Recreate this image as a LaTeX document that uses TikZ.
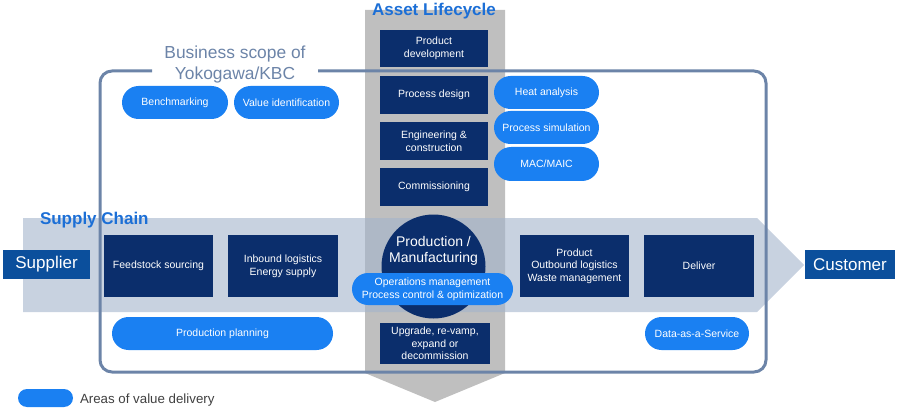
\documentclass[tikz,border=0pt]{standalone}
\usepackage{fontspec}
\setmainfont{Liberation Sans}
\usetikzlibrary{shapes.misc}
\definecolor{navy}{HTML}{0B2E6C}
\definecolor{supblue}{HTML}{0B4F9C}
\definecolor{pillblue}{HTML}{1A80F2}
\definecolor{titleblue}{HTML}{1C6FD6}
\definecolor{framec}{HTML}{6C84A8}
\definecolor{lcgray}{HTML}{BFBFBF}
\definecolor{bandc}{HTML}{A3B4CB}
\definecolor{legendtext}{HTML}{404040}
\newcommand\fsz[2]{\fontsize{#1}{#2}\selectfont}
\begin{document}
\begin{tikzpicture}[x=1pt,y=-1pt,
  every node/.style={inner sep=0pt, outer sep=0pt},
  navybox/.style={fill=navy, text=white, align=center, font=\fsz{10.5}{12.7}},
  endbox/.style={fill=supblue, text=white, font=\fsz{17}{20}, minimum height=29pt},
  pill/.style={rounded rectangle, fill=pillblue, text=white, align=center, font=\fsz{10.5}{12.7}, minimum height=33pt},
  title/.style={text=titleblue, font=\fsz{17}{20}\bfseries},
  framestyle/.style={draw=framec, line width=3pt, rounded corners=12pt}]
\useasboundingbox (0,0) rectangle (900,409);
% asset lifecycle column
\fill[lcgray] (365,10) -- (505,10) -- (505,373) -- (435,402) -- (365,373) -- cycle;
% supply chain band
\fill[bandc, opacity=0.6] (23,218) -- (757,218) -- (804,265) -- (757,312) -- (23,312) -- cycle;
% business scope frame
\draw[framestyle] (152,71) -- (100,71) -- (100,372) -- (766,372) -- (766,71) -- (318,71);
\node[text=framec, font=\fsz{17.4}{21}, align=center] (scope) at (235,65) {Business scope of\\Yokogawa/KBC};
% titles
\node[title, anchor=base] (alc) at (434,16) {Asset Lifecycle};
\node[title, anchor=base west] (sct) at (40,224) {Supply Chain};
% lifecycle boxes
\node[navybox, minimum width=108pt, minimum height=37pt] (pdev) at (434,48.5) {Product\\development};
\node[navybox, minimum width=108pt, minimum height=38pt] (pdes) at (434,95) {Process design};
\node[navybox, minimum width=108pt, minimum height=38pt] (eng) at (434,141) {Engineering \&\\construction};
\node[navybox, minimum width=108pt, minimum height=38pt] (comm) at (434,187) {Commissioning};
\node[navybox, minimum width=110pt, minimum height=41pt] (upg) at (435,343.5) {Upgrade, re-vamp,\\expand or\\decommission};
% production circle
\node[circle, fill=navy, minimum size=104pt] (prod) at (433.5,266.5) {};
\node[text=white, align=center, font=\fsz{14}{15.7}] (prodtxt) at (433.5,251) {Production /\\Manufacturing};
\node[pill, minimum width=161pt, minimum height=32pt] (ops) at (432.5,289) {Operations management\\Process control \& optimization};
% supply chain boxes
\node[navybox, minimum width=109pt, minimum height=62pt] (feed) at (158.5,266) {Feedstock sourcing};
\node[navybox, minimum width=110pt, minimum height=62pt] (inb) at (283,266) {Inbound logistics\\Energy supply};
\node[navybox, minimum width=109pt, minimum height=62pt] (outb) at (574.5,266) {Product\\Outbound logistics\\Waste management};
\node[navybox, minimum width=110pt, minimum height=62pt] (deliv) at (699,266) {Deliver};
\node[endbox, minimum width=87pt] (supp) at (46.5,264.5) {Supplier};
\node[endbox, minimum width=90pt] (cust) at (850,264.5) {Customer};
% value pills
\node[pill, minimum width=106pt] (bench) at (175,102.5) {Benchmarking};
\node[pill, minimum width=105pt] (valid) at (286.5,102.5) {Value identification};
\node[pill, minimum width=105pt] (heat) at (546.5,92.5) {Heat analysis};
\node[pill, minimum width=105pt] (psim) at (546.5,127.5) {Process simulation};
\node[pill, minimum width=105pt, minimum height=34pt] (mac) at (546.5,164) {MAC/MAIC};
\node[pill, minimum width=221pt] (pplan) at (222.5,333.5) {Production planning};
\node[pill, minimum width=104pt] (daas) at (697,333.5) {Data-as-a-Service};
% legend
\node[rounded rectangle, fill=pillblue, minimum width=55pt, minimum height=18pt] (leg) at (45.5,398) {};
\node[anchor=base west, text=legendtext, font=\fsz{13.3}{16}] (legtxt) at (80,403) {Areas of value delivery};
\end{tikzpicture}
\end{document}
